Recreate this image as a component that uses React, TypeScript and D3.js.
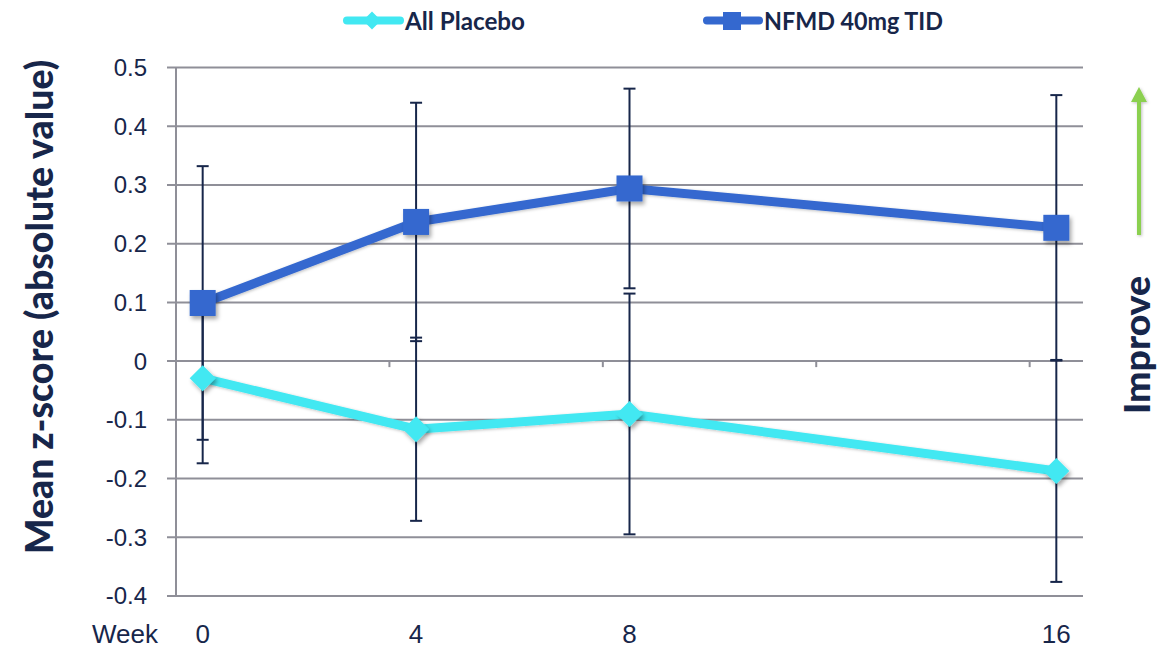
import React from "react";
import * as d3 from "d3";

// Weeks on a category axis (0..16), only these are plotted
const weeks = [0, 4, 8, 16];
const tickLabels = ["0", "4", "8", "16"];
const yTicks = [0.5, 0.4, 0.3, 0.2, 0.1, 0, -0.1, -0.2, -0.3, -0.4];

// Mean z-score and error-bar half widths
const nfmdMean = [0.099, 0.237, 0.294, 0.227];
const nfmdErr = [0.233, 0.203, 0.17, 0.226];
const placeboMean = [-0.029, -0.116, -0.09, -0.187];
const placeboErr = [0.145, 0.156, 0.205, 0.189];

const seriesNames = ["All Placebo", "NFMD 40mg TID"];

const W = 1166;
const H = 648;
const plot = { left: 176, right: 1083, top: 67.5, bottom: 596 };

const NAVY = "#17264a";
const GRID = "#8f8f98";
const CYAN = "#42e8f2";
const BLUE = "#3468cf";
const GREEN = "#8bd04f";

export default function App() {
  const x = d3.scaleLinear().domain([-0.5, 16.5]).range([plot.left, plot.right]);
  const y = d3.scaleLinear().domain([-0.4, 0.5]).range([plot.bottom, plot.top]);
  const line = d3
    .line<[number, number]>()
    .x((d) => x(d[0]))
    .y((d) => y(d[1]));

  const placeboPts = weeks.map((w, i) => [w, placeboMean[i]] as [number, number]);
  const nfmdPts = weeks.map((w, i) => [w, nfmdMean[i]] as [number, number]);

  const catTicks = [3.5, 7.5, 11.5, 15.5];
  const capHalf = 6;

  const errBars = (means: number[], errs: number[], key: string) =>
    weeks.map((w, i) => {
      const cx = x(w);
      const y1 = y(means[i] + errs[i]);
      const y2 = y(means[i] - errs[i]);
      return (
        <g key={key + i} stroke={NAVY} strokeWidth={2}>
          <line x1={cx} x2={cx} y1={y1} y2={y2} />
          <line x1={cx - capHalf} x2={cx + capHalf} y1={y1} y2={y1} />
          <line x1={cx - capHalf} x2={cx + capHalf} y1={y2} y2={y2} />
        </g>
      );
    });

  const diamond = (cx: number, cy: number, r: number) =>
    `M${cx},${cy - r}L${cx + r},${cy}L${cx},${cy + r}L${cx - r},${cy}Z`;

  const labelFont = "'Liberation Sans', Arial, sans-serif";
  const narrowFont = "'Liberation Sans Narrow', 'Liberation Sans', Arial, sans-serif";
  const boldFont = "Lato, 'Open Sans', 'DejaVu Sans', sans-serif";

  return (
    <svg width={W} height={H} style={{ position: "absolute", left: 0, top: 0, background: "#fff" }}>
      <defs>
        <filter id="shadow" x="-50%" y="-50%" width="200%" height="200%">
          <feDropShadow dx="2" dy="3" stdDeviation="2" floodColor="#000" floodOpacity="0.35" />
        </filter>
        <filter id="soft" x="-50%" y="-50%" width="200%" height="200%">
          <feDropShadow dx="1" dy="1" stdDeviation="1.5" floodColor="#000" floodOpacity="0.25" />
        </filter>
      </defs>
      <rect width={W} height={H} fill="#fff" />

      {/* horizontal gridlines with outside tick stubs */}
      {yTicks.map((t) => (
        <line key={"g" + t} x1={plot.left - 9} x2={plot.right} y1={y(t)} y2={y(t)} stroke={GRID} strokeWidth={2} />
      ))}
      {/* vertical axis */}
      <line x1={plot.left} x2={plot.left} y1={plot.top} y2={plot.bottom} stroke={GRID} strokeWidth={2} />
      {/* category tick marks on the zero line */}
      {catTicks.map((t) => (
        <line key={"c" + t} x1={x(t)} x2={x(t)} y1={y(0)} y2={y(0) + 6} stroke={GRID} strokeWidth={2} />
      ))}

      {/* y tick labels */}
      {yTicks.map((t) => (
        <text
          key={"yl" + t}
          x={147}
          y={y(t)}
          dy="0.35em"
          textAnchor="end"
          fontFamily={labelFont}
          fontSize={24}
          fill={NAVY}
        >
          {t === 0 ? "0" : t.toFixed(1)}
        </text>
      ))}

      {/* x tick labels */}
      {weeks.map((w, i) => (
        <text key={"xl" + w} x={x(w)} y={634} dy="0.35em" textAnchor="middle" fontFamily={narrowFont} fontSize={26} fill={NAVY}>
          {tickLabels[i]}
        </text>
      ))}
      <text x={125} y={634} dy="0.35em" textAnchor="middle" fontFamily={narrowFont} fontSize={26} fill={NAVY}>
        Week
      </text>

      {/* series lines */}
      <path d={line(placeboPts) || ""} fill="none" stroke={CYAN} strokeWidth={9} filter="url(#soft)" />
      <path d={line(nfmdPts) || ""} fill="none" stroke={BLUE} strokeWidth={9} filter="url(#soft)" />

      {/* error bars */}
      {errBars(placeboMean, placeboErr, "pe")}
      {errBars(nfmdMean, nfmdErr, "ne")}

      {/* markers */}
      {placeboPts.map((p, i) => (
        <path key={"pm" + i} d={diamond(x(p[0]), y(p[1]), 13)} fill={CYAN} filter="url(#shadow)" />
      ))}
      {nfmdPts.map((p, i) => (
        <rect
          key={"nm" + i}
          x={x(p[0]) - 13}
          y={y(p[1]) - 13}
          width={26}
          height={26}
          fill={BLUE}
          filter="url(#shadow)"
        />
      ))}

      {/* legend */}
      <g>
        <line x1={347} x2={400} y1={20.5} y2={20.5} stroke={CYAN} strokeWidth={8} strokeLinecap="round" />
        <path d={diamond(372, 20.5, 9)} fill={CYAN} />
        <text x={405} y={21} dy="0.36em" fontFamily={boldFont} fontWeight={700} fontSize={24} fill={NAVY}
          textLength={120} lengthAdjust="spacingAndGlyphs">
          {seriesNames[0]}
        </text>
        <line x1={707} x2={759} y1={20.5} y2={20.5} stroke={BLUE} strokeWidth={8} strokeLinecap="round" />
        <rect x={723} y={12} width={18} height={18} fill={BLUE} />
        <text x={764} y={21} dy="0.36em" fontFamily={boldFont} fontWeight={700} fontSize={24} fill={NAVY}
          textLength={179} lengthAdjust="spacingAndGlyphs">
          {seriesNames[1]}
        </text>
      </g>

      {/* y axis title */}
      <text
        transform="translate(40,307) rotate(-90)"
        textAnchor="middle"
        dy="0.35em"
        fontFamily={boldFont}
        fontWeight={900}
        fontSize={37}
        fill={NAVY}
        textLength={494}
        lengthAdjust="spacingAndGlyphs"
      >
        Mean  z-score (absolute value)
      </text>

      {/* improvement arrow */}
      <g filter="url(#soft)">
        <line x1={1139} x2={1139} y1={235} y2={100} stroke={GREEN} strokeWidth={4} />
        <path d="M1131,102L1139,87L1147,102Z" fill={GREEN} />
      </g>
      <text
        transform="translate(1137,345) rotate(-90)"
        textAnchor="middle"
        dy="0.35em"
        fontFamily={boldFont}
        fontWeight={900}
        fontSize={36}
        fill={NAVY}
        textLength={138}
        lengthAdjust="spacingAndGlyphs"
      >
        Improve
      </text>
    </svg>
  );
}
